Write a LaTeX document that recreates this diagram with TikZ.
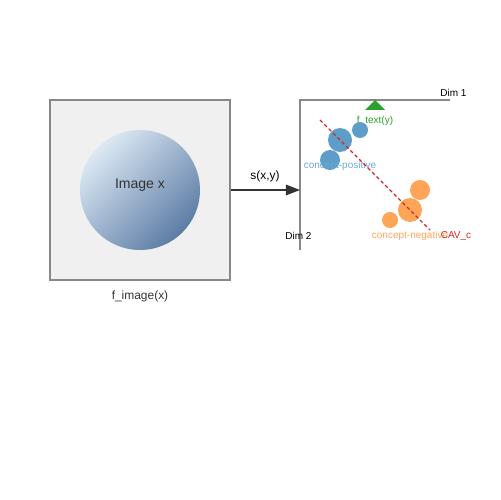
\documentclass[tikz,border=0pt]{standalone}
\usepackage{fontspec}
\setmainfont{Liberation Sans}
\usetikzlibrary{arrows.meta}

\definecolor{boxfill}{HTML}{F0F0F0}
\definecolor{axisgray}{HTML}{888888}
\definecolor{darktext}{HTML}{333333}
\definecolor{imglight}{HTML}{DCE9F4}
\definecolor{imgmid}{HTML}{96C3E0}
\definecolor{imgdark}{HTML}{5C7CA5}
\definecolor{posblue}{HTML}{5E9DC8}
\definecolor{poslabel}{HTML}{6FA8D6}
\definecolor{negorange}{HTML}{FFA557}
\definecolor{cavred}{HTML}{D62728}
\definecolor{textgreen}{HTML}{2CA02C}

\tikzset{
  axisline/.style={draw=axisgray,line width=0.7pt},
  small/.style={font=\fontsize{5.7}{6}\selectfont,inner sep=0pt},
  mid/.style={font=\fontsize{6.8}{8}\selectfont,inner sep=0pt}
}

\begin{document}
\begin{tikzpicture}[x=0.02cm,y=-0.02cm]
%\draw[help lines] (0,0) grid[step=50] (500,500);
\useasboundingbox (0,0) rectangle (500,500);

% image side
\node[draw=axisgray,line width=0.65pt,fill=boxfill,minimum size=3.6cm,inner sep=0pt] (box) at (140,190) {};
\node[circle,minimum size=2.4cm,inner sep=0pt,shading=axis,top color=imglight,
  middle color=imgmid,bottom color=imgdark,shading angle=45] (img) at (140,190) {};
\node[text=darktext,font=\fontsize{8}{9}\selectfont,inner sep=0pt] (imglabel) at (140,185) {Image x};
\node[mid,text=darktext] (fimg) at (140,296) {f\_image(x)};

% axes
\coordinate (origin) at (300,100);
\coordinate (entry) at (300,190);
\draw[axisline] (300,250) -- (origin) -- (450,100);
\node[small,anchor=south west] (dim1) at (440,97) {Dim 1};
\node[small,anchor=west] (dim2) at (285,236) {Dim 2};

\draw[line width=0.8pt,darktext,-{Triangle[length=8pt,width=6pt]}] (box.east) -- (entry);
\node[mid] (sim) at (265,176) {s(x,y)};

% text embedding
\fill[textgreen] (375,100) -- (385,110) -- (365,110) -- cycle;
\node[small,text=textgreen] (ftext) at (375,121) {f\_text(y)};

% concept points
\foreach \x/\y/\r in {340/140/12, 360/130/8, 330/160/10}
  \fill[posblue] (\x,\y) circle (\r);
\foreach \x/\y/\r in {420/190/10, 410/210/12, 390/220/8}
  \fill[negorange] (\x,\y) circle (\r);
\node[small,text=poslabel] (pos) at (340,166) {concept-positive};
\node[small,text=negorange] (neg) at (410,236) {concept-negative};

% CAV direction
\coordinate (cavstart) at (320,120);
\coordinate (cavend) at (430,230);
\draw[cavred,line width=0.7pt,dash pattern=on 2pt off 1.5pt] (cavstart) -- (cavend);
\node[small,text=cavred] (cav) at (456,236) {CAV\_c};
\end{tikzpicture}
\end{document}
